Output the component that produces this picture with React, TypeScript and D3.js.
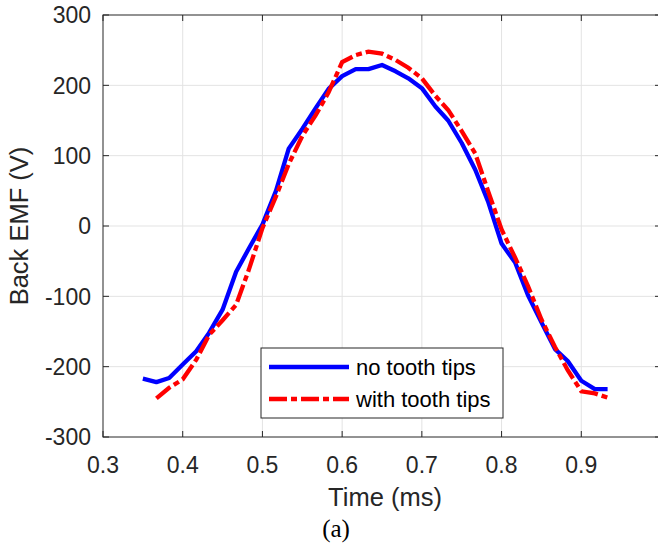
import React, { useEffect, useRef } from 'react';
import * as d3 from 'd3';

// time (ms) samples
const timeNoTips = [0.35, 0.367, 0.383, 0.4, 0.417, 0.433, 0.45, 0.467, 0.483, 0.5, 0.517, 0.533, 0.55, 0.567, 0.583, 0.6, 0.617, 0.633, 0.65, 0.667, 0.683, 0.7, 0.717, 0.733, 0.75, 0.767, 0.783, 0.8, 0.817, 0.833, 0.85, 0.867, 0.883, 0.9, 0.917, 0.933];
const emfNoTips = [-217, -222, -216, -197, -178, -152, -119, -65, -32, 2, 50, 110, 138, 168, 195, 213, 223, 223, 229, 220, 210, 196, 170, 150, 118, 80, 35, -25, -52, -98, -137, -175, -192, -220, -232, -232];

const timeWithTips = [0.367, 0.383, 0.4, 0.417, 0.433, 0.45, 0.467, 0.483, 0.5, 0.517, 0.533, 0.55, 0.567, 0.583, 0.6, 0.617, 0.633, 0.65, 0.667, 0.683, 0.7, 0.717, 0.733, 0.75, 0.767, 0.783, 0.8, 0.817, 0.833, 0.85, 0.867, 0.883, 0.9, 0.917, 0.933];
const emfWithTips = [-245, -230, -218, -190, -155, -134, -112, -62, -3, 42, 88, 128, 158, 190, 233, 243, 248, 245, 236, 225, 210, 185, 165, 135, 103, 50, -5, -45, -85, -133, -172, -205, -235, -238, -244];

const xTicks = [0.3, 0.4, 0.5, 0.6, 0.7, 0.8, 0.9];
const yTicks = [-300, -200, -100, 0, 100, 200, 300];
const seriesNames = ['no tooth tips', 'with tooth tips'];

const FONT = '"Liberation Sans", Arial, Helvetica, sans-serif';
const INK = '#262626';
const LW = 4.3;
const DASH = '18,4,6,4';

const Chart = () => {
  const ref = useRef<SVGSVGElement>(null);

  useEffect(() => {
    if (!ref.current) return;
    const svg = d3.select(ref.current);
    svg.selectAll('*').remove();

    const left = 103, top = 15, bottom = 437, right = 661;
    const x = d3.scaleLinear().domain([0.3, 1.0]).range([left, right]);
    const y = d3.scaleLinear().domain([-300, 300]).range([bottom, top]);

    // grid
    const grid = svg.append('g').attr('stroke', '#e3e3e3').attr('stroke-width', 1);
    xTicks.slice(1).forEach(t => {
      grid.append('line').attr('x1', x(t)).attr('x2', x(t)).attr('y1', top).attr('y2', bottom);
    });
    yTicks.slice(1, -1).forEach(t => {
      grid.append('line').attr('x1', left).attr('x2', right).attr('y1', y(t)).attr('y2', y(t));
    });

    // box + inward ticks
    const ax = svg.append('g').attr('stroke', INK).attr('stroke-width', 1).attr('fill', 'none');
    ax.append('rect').attr('x', left).attr('y', top).attr('width', right - left).attr('height', bottom - top);
    xTicks.forEach(t => {
      ax.append('line').attr('x1', x(t)).attr('x2', x(t)).attr('y1', bottom).attr('y2', bottom - 6);
      ax.append('line').attr('x1', x(t)).attr('x2', x(t)).attr('y1', top).attr('y2', top + 6);
    });
    yTicks.forEach(t => {
      ax.append('line').attr('x1', left).attr('x2', left + 6).attr('y1', y(t)).attr('y2', y(t));
      ax.append('line').attr('x1', right).attr('x2', right - 6).attr('y1', y(t)).attr('y2', y(t));
    });

    // tick labels
    svg.append('g')
      .selectAll('text')
      .data(xTicks)
      .enter()
      .append('text')
        .attr('x', d => x(d))
        .attr('y', 473)
        .attr('text-anchor', 'middle')
        .attr('font-family', FONT)
        .attr('font-size', 23)
        .attr('fill', INK)
        .text(d => d.toFixed(1));

    svg.append('g')
      .selectAll('text')
      .data(yTicks)
      .enter()
      .append('text')
        .attr('x', 91)
        .attr('y', d => y(d))
        .attr('dy', '0.36em')
        .attr('text-anchor', 'end')
        .attr('font-family', FONT)
        .attr('font-size', 23)
        .attr('fill', INK)
        .text(d => String(d));

    // axis labels
    svg.append('text')
      .attr('x', (left + right) / 2 + 3)
      .attr('y', 506)
      .attr('text-anchor', 'middle')
      .attr('font-family', FONT)
      .attr('font-size', 25.5)
      .attr('fill', INK)
      .text('Time (ms)');

    svg.append('text')
      .attr('transform', `translate(28, ${(top + bottom) / 2}) rotate(-90)`)
      .attr('text-anchor', 'middle')
      .attr('font-family', FONT)
      .attr('font-size', 25.5)
      .attr('fill', INK)
      .text('Back EMF (V)');

    svg.append('text')
      .attr('x', 336)
      .attr('y', 537)
      .attr('text-anchor', 'middle')
      .attr('font-family', '"Liberation Serif", "Times New Roman", serif')
      .attr('font-size', 25)
      .attr('fill', '#000')
      .text('(a)');

    // lines
    const line = d3.line<[number, number]>().x(d => x(d[0])).y(d => y(d[1]));
    const blue = timeNoTips.map((t, i) => [t, emfNoTips[i]] as [number, number]);
    const red = timeWithTips.map((t, i) => [t, emfWithTips[i]] as [number, number]);

    svg.append('path')
      .attr('d', line(blue))
      .attr('fill', 'none')
      .attr('stroke', '#0000ff')
      .attr('stroke-width', LW)
      .attr('stroke-linejoin', 'round');

    svg.append('path')
      .attr('d', line(red))
      .attr('fill', 'none')
      .attr('stroke', '#ff0000')
      .attr('stroke-width', LW)
      .attr('stroke-dasharray', DASH);

    // legend
    const lg = svg.append('g');
    lg.append('rect')
      .attr('x', 261).attr('y', 348).attr('width', 242).attr('height', 70)
      .attr('fill', '#fff').attr('stroke', INK).attr('stroke-width', 1);
    lg.append('line').attr('x1', 269).attr('x2', 349).attr('y1', 367).attr('y2', 367)
      .attr('stroke', '#0000ff').attr('stroke-width', LW);
    lg.append('line').attr('x1', 269).attr('x2', 349).attr('y1', 399).attr('y2', 399)
      .attr('stroke', '#ff0000').attr('stroke-width', LW).attr('stroke-dasharray', DASH);
    lg.selectAll('text')
      .data(seriesNames)
      .enter()
      .append('text')
        .attr('x', 356)
        .attr('y', (d, i) => 367 + i * 32)
        .attr('dy', '0.35em')
        .attr('font-family', FONT)
        .attr('font-size', 22)
        .attr('fill', '#000')
        .text(d => d);
  }, []);

  return (
    <svg
      ref={ref}
      width={658}
      height={546}
      style={{ position: 'absolute', left: 0, top: 0, background: '#fff' }}
    />
  );
};

export default function App() {
  return <Chart />;
}
